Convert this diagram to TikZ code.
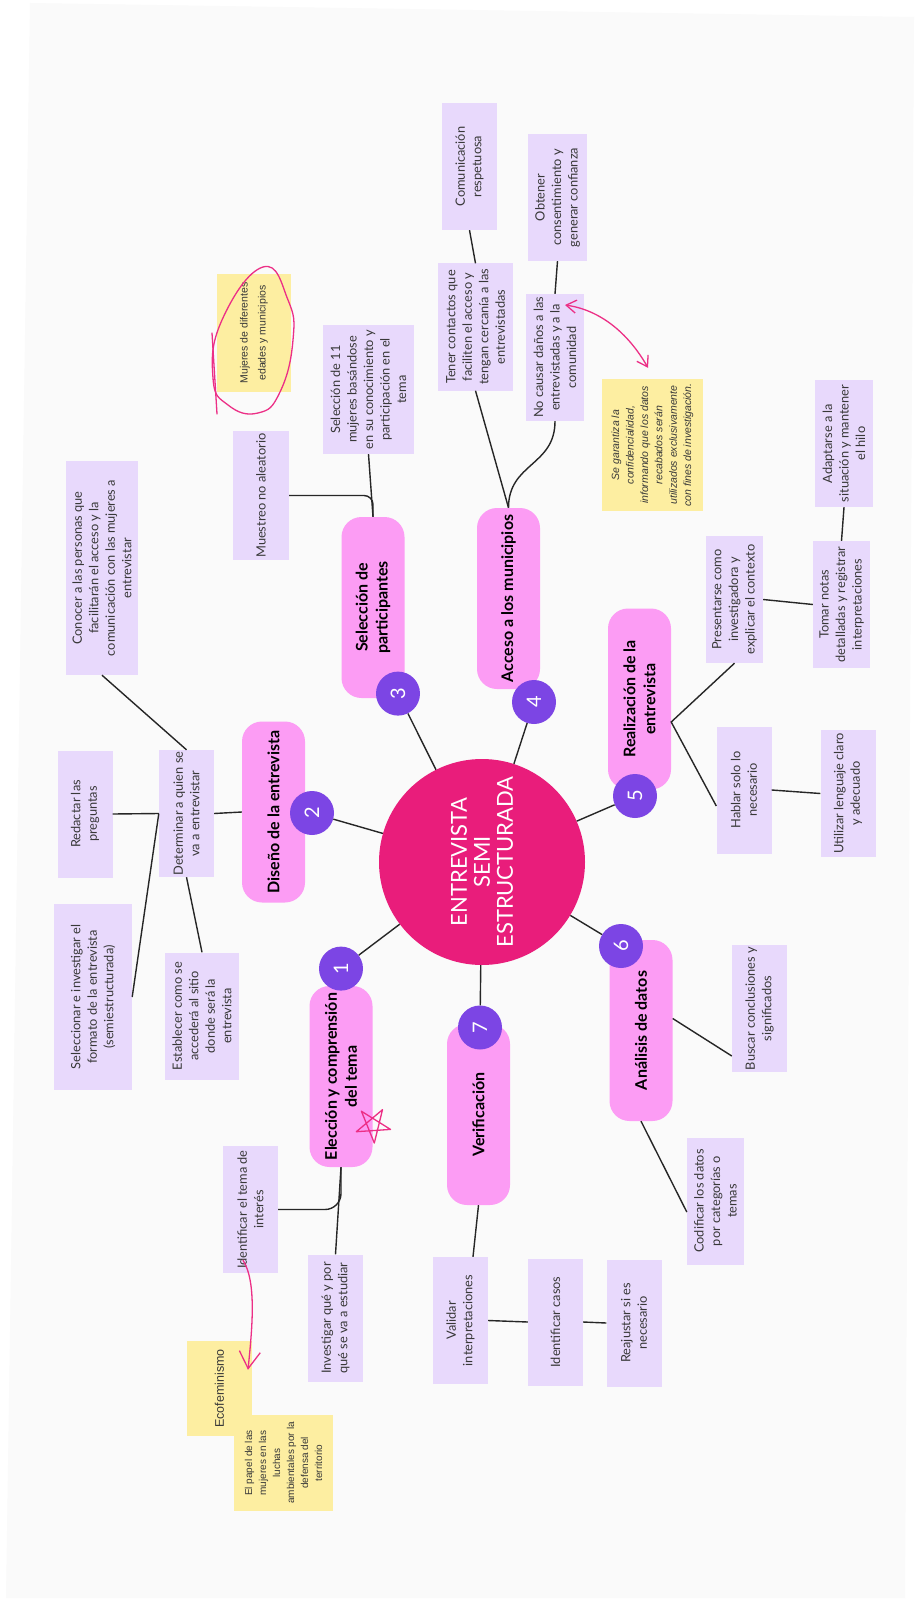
\documentclass[tikz,border=0pt]{standalone}
\usepackage{fontspec}
\setmainfont{Lato}
\newfontfamily\notefont{Liberation Sans}
\usetikzlibrary{arrows.meta}

\definecolor{boxc}{HTML}{E8D9FC}
\definecolor{pillc}{HTML}{FC9CF4}
\definecolor{numc}{HTML}{7C45E4}
\definecolor{centc}{HTML}{E91D7B}
\definecolor{notec}{HTML}{FDEEA1}
\definecolor{dood}{HTML}{EC2F86}
\definecolor{linec}{HTML}{262626}
\definecolor{txtc}{HTML}{383838}
\definecolor{pagec}{HTML}{FAFAFA}

\begin{document}
\begin{tikzpicture}[x=1pt,y=-1pt,
  link/.style={draw=linec, line width=1.4pt},
  box/.style={rotate=90, fill=boxc, text=txtc, inner sep=0pt, align=center,
    minimum width=127pt, minimum height=55pt,
    font=\fontsize{12.8}{16.5}\selectfont},
  pill/.style={rotate=90, fill=pillc, rounded corners=20pt, inner sep=0pt, align=center,
    minimum width=181pt, minimum height=63pt,
    font=\fontsize{16}{20}\selectfont\bfseries},
  num/.style={circle, fill=numc, text=white, minimum size=44pt, inner sep=0pt,
    rotate=90, font=\fontsize{20}{20}\selectfont},
  note/.style={rotate=90, fill=notec, text=txtc, inner sep=0pt, align=center,
    font=\notefont\fontsize{10.5}{18}\selectfont},
  doodle/.style={draw=dood, line width=1.3pt, line cap=round, line join=round}
]
\useasboundingbox (0,0) rectangle (915,1602);
\fill[white] (0,0) rectangle (915,1602);
\fill[pagec] (30,3) -- (914,17) -- (905,1598) -- (6,1598) -- cycle;

% centro
\node[circle, fill=centc, minimum size=206pt, inner sep=0pt, rotate=90, text=white,
  align=center, font=\fontsize{22}{23}\selectfont] (centre) at (482,862)
  {ENTREVISTA\\SEMI\\ESTRUCTURADA};

% pasos
\node[pill] (eleccion) at (341,1076.5) {Elección y comprensión\\del tema};
\node[pill] (diseno) at (273.5,812) {Diseño de la entrevista};
\node[pill] (selpart) at (373,607.5) {Selección de\\participantes};
\node[pill] (acceso) at (508.5,598.5) {Acceso a los municipios};
\node[pill] (realiz) at (639.5,699) {Realización de la\\entrevista};
\node[pill] (analisis) at (641,1030.5) {Análisis de datos};
\node[pill] (verif) at (478.5,1114.5) {Verificación};

\foreach \k/\px/\py in {1/341/968.6, 2/312/813, 3/398/693.6, 4/534/702,
    5/635/796, 6/621/946, 7/480/1027.5} {
  \node[num] (n\k) at (\px,\py) {\k};
  \draw[link] (n\k) -- (centre);
}

% ideas
\node[box, minimum width=214pt, minimum height=72pt] (conocer) at (102,568)
  {Conocer a las personas que\\facilitarán el acceso y la\\comunicación con las mujeres a\\entrevistar};
\node[box, minimum width=129pt, minimum height=56pt] (muestreo) at (261,495.5)
  {Muestreo no aleatorio};
\node[box, minimum width=129pt, minimum height=91pt] (sel11) at (368.5,389.5)
  {Selección de 11\\mujeres basándose\\en su conocimiento y\\participación en el\\tema};
\node[box] (comunic) at (469.5,166.5) {Comunicación\\respetuosa};
\node[box, minimum height=75pt] (tener) at (475.5,327)
  {Tener contactos que\\faciliten el acceso y\\tengan cercanía a las\\entrevistadas};
\node[box, minimum height=59pt] (obtener) at (557.5,197.5) {Obtener\\consentimiento y\\generar confianza};
\node[box, minimum height=58pt] (nocausar) at (555,357.5) {No causar daños a las\\entrevistadas y a la\\comunidad};
\node[box, minimum height=58pt] (adaptarse) at (844,443.5) {Adaptarse a la\\situación y mantener\\el hilo};
\node[box, minimum height=57pt] (presentarse) at (734.5,599.5) {Presentarse como\\investigadora y\\explicar el contexto};
\node[box, minimum height=57pt] (tomar) at (841.5,604.5) {Tomar notas\\detalladas y registrar\\interpretaciones};
\node[box] (hablar) at (744,790) {Hablar solo lo\\necesario};
\node[box] (utilizar) at (848,793.5) {Utilizar lenguaje claro\\y adecuado};
\node[box] (buscar) at (759.5,1008.5) {Buscar conclusiones y\\significados};
\node[box, minimum height=57pt] (codificar) at (715.5,1201) {Codificar los datos\\por categorías o\\temas};
\node[box] (validar) at (460.5,1320.5) {Validar\\interpretaciones};
\node[box] (identcasos) at (555.5,1322) {Identificar casos};
\node[box] (reajustar) at (634,1323) {Reajustar si es\\necesario};
\node[box] (identema) at (250.5,1209.5) {Identificar el tema de\\interés};
\node[box] (investigar) at (335.5,1318) {Investigar qué y por\\qué se va a estudiar};
\node[box] (determinar) at (186.5,813.5) {Determinar a quien se\\va a entrevistar};
\node[box] (redactar) at (85,814) {Redactar las\\preguntas};
\node[box, minimum width=186pt, minimum height=78pt] (seleccionar) at (93,997)
  {Seleccionar e investigar el\\formato de la entrevista\\(semiestructurada)};
\node[box, minimum height=74pt] (establecer) at (202,1016)
  {Establecer como se\\accederá al sitio\\donde será la\\entrevista};

% notas
\node[note, minimum width=118pt, minimum height=74pt] (mujeres) at (254,333)
  {Mujeres de diferentes\\edades y municipios};
\node[note, minimum width=132pt, minimum height=101pt,
  font=\notefont\itshape\fontsize{10.5}{14.4}\selectfont] (garantiza) at (652.5,445)
  {Se garantiza la\\confidencialidad,\\informando que los datos\\recabados serán\\utilizados exclusivamente\\con fines de investigación.};
\node[note, minimum width=95pt, minimum height=65pt,
  font=\notefont\fontsize{12.5}{15}\selectfont] (ecofem) at (219.5,1388.5) {Ecofeminismo};
\node[note, minimum width=96pt, minimum height=99pt,
  font=\notefont\fontsize{10}{14}\selectfont] (papel) at (283.5,1463)
  {El papel de las\\mujeres en las\\luchas\\ambientales por la\\defensa del\\territorio};

% conexiones
\draw[link, rounded corners=9pt] (selpart.east) |- (muestreo.south);
\draw[link] (sel11.west) -- (selpart.east);
\draw[link] (conocer.west) -- (determinar.east);
\draw[link] (redactar.south) -- (determinar.north);
\draw[link] (determinar.north) -- (seleccionar.south);
\draw[link] (determinar.west) -- (establecer.east);
\draw[link] (diseno.north) -- (determinar.south);
\draw[link] (comunic.west) -- (tener.east);
\draw[link] (obtener.west) -- (nocausar.east);
\draw[link] (acceso.east) -- (tener.west);
\draw[link] (acceso.east) .. controls +(0,-45) and +(0,45) .. (nocausar.west);
\draw[link] (adaptarse.west) -- (tomar.east);
\draw[link] (presentarse.south) -- (tomar.north);
\coordinate (rj) at ([yshift=-23pt]realiz.south);
\draw[link] (presentarse.west) -- (rj) -- ([yshift=-16pt]hablar.north);
\draw[link] (hablar.south) -- (utilizar.north);
\draw[link] ([yshift=12pt]analisis.south) -- ([yshift=-47.5pt]buscar.north);
\draw[link] (analisis.west) -- ([yshift=-11pt]codificar.north);
\draw[link] (verif.west) -- ([xshift=12.5pt]validar.east);
\draw[link] (validar.south) -- (identcasos.north);
\draw[link] (identcasos.south) -- (reajustar.north);
\draw[link] (eleccion.west) -- (investigar.east);
\draw[link, rounded corners=16pt] (eleccion.west) |- (identema.south);

% marcas a mano
\draw[doodle] plot[smooth cycle, tension=0.8] coordinates
  {(263,267) (288,300) (293,340) (280,392) (258,413) (228,405) (213,378) (222,320)};
\draw[doodle] (212,333) -- (217,414);
\draw[doodle] (361.4,1111.2) -- (390.5,1129.4) -- (356.3,1131.7) -- (382.5,1109.7) -- (374.3,1143) -- cycle;
\draw[doodle, {Straight Barb[length=10pt,width=13pt]}-{Straight Barb[length=10pt,width=13pt]}]
  ([shift={(10pt,52.5pt)}]nocausar.center) .. controls +(35,5) and +(-20,-35) .. ([shift={(-4.5pt,11pt)}]garantiza.east);
\draw[doodle, -{Straight Barb[length=17pt,width=21pt]}]
  ([shift={(-7.5pt,13pt)}]identema.west) .. controls +(14,22) and +(4,-40) .. ([shift={(28.5pt,-29pt)}]ecofem.east);
\end{tikzpicture}
\end{document}
